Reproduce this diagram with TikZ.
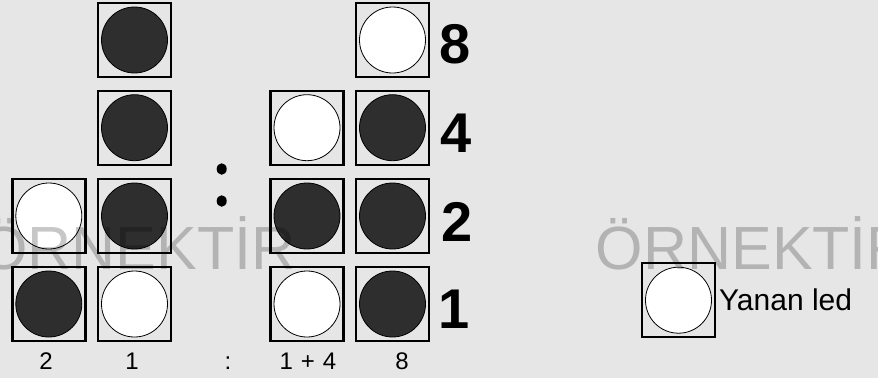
\documentclass[tikz,border=0pt]{standalone}
\usepackage{fontspec}
\usetikzlibrary{shapes.geometric}
\setmainfont{Liberation Sans}
\definecolor{bg}{HTML}{E6E6E6}
\definecolor{ledoff}{HTML}{2E2E2E}
\begin{document}
\begin{tikzpicture}[x=1pt,y=-1pt,
 cell/.style={draw=black, line width=2.4pt, minimum width=73pt, minimum height=74pt, inner sep=0pt},
 led/.style={circle, draw=black, line width=0.8pt, minimum size=66pt, inner sep=0pt},
 lit/.style={led, fill=white},
 dark/.style={led, fill=ledoff},
 sepdot/.style={ellipse, fill=black, minimum width=10pt, minimum height=11.5pt, inner sep=0pt},
 weight/.style={font=\fontsize{56}{60}\selectfont\bfseries, anchor=base, inner sep=0pt},
 lbl/.style={font=\fontsize{24}{27}\selectfont, anchor=base, inner sep=0pt},
 wm/.style={font=\fontsize{61}{64}\selectfont, text=black, text opacity=0.22, anchor=base west, inner sep=0pt}
]
\fill[bg] (0,0) rectangle (878,378);
\useasboundingbox (0,0) rectangle (878,378);

% column "2"
\node[cell] (a3) at (48.8,216) {}; \node[lit]  (a3l) at (a3) {};
\node[cell] (a4) at (48.8,304) {}; \node[dark] (a4l) at (a4) {};
% column "1"
\node[cell] (b1) at (134.5,40)    {}; \node[dark] (b1l) at (b1) {};
\node[cell] (b2) at (134.5,127.7) {}; \node[dark] (b2l) at (b2) {};
\node[cell] (b3) at (134.5,216)   {}; \node[dark] (b3l) at (b3) {};
\node[cell] (b4) at (134.5,304)   {}; \node[lit]  (b4l) at (b4) {};
% column "1+4"
\node[cell] (c2) at (307,127.7) {}; \node[lit]  (c2l) at (c2) {};
\node[cell] (c3) at (307,216)   {}; \node[dark] (c3l) at (c3) {};
\node[cell] (c4) at (307,304)   {}; \node[lit]  (c4l) at (c4) {};
% column "8"
\node[cell] (d1) at (392.5,40)    {}; \node[lit]  (d1l) at (d1) {};
\node[cell] (d2) at (392.5,127.7) {}; \node[dark] (d2l) at (d2) {};
\node[cell] (d3) at (392.5,216)   {}; \node[dark] (d3l) at (d3) {};
\node[cell] (d4) at (392.5,304)   {}; \node[dark] (d4l) at (d4) {};

% separator colon
\node[sepdot] (sepa) at (221.7,169) {};
\node[sepdot] (sepb) at (221.7,201) {};

% weights
\node[weight] (w8) at (455,63)  {8};
\node[weight] (w4) at (456,152) {4};
\node[weight] (w2) at (457.5,241) {2};
\node[weight] (w1) at (454,328) {1};

% bottom labels
\node[lbl] (l2)  at (46,369)  {2};
\node[lbl] (l1)  at (132,369) {1};
\node[lbl] (lc)  at (228,369) {:};
\node[lbl] (l14) at (308,369) {1\hspace{0.33em}+\hspace{0.33em}4};
\node[lbl] (l8)  at (402,369) {8};

% legend
\node[cell] (leg) at (678.5,300.2) {}; \node[lit] (legl) at (leg) {};
\node[font=\fontsize{30}{34}\selectfont, anchor=base west, inner sep=0pt] (legt) at (719,310) {Yanan led};

% watermarks
\node[wm] (wm1) at (-20,269)   {ÖRNEKTİR};
\node[wm] (wm2) at (595.6,269) {ÖRNEKTİR};
\end{tikzpicture}
\end{document}
